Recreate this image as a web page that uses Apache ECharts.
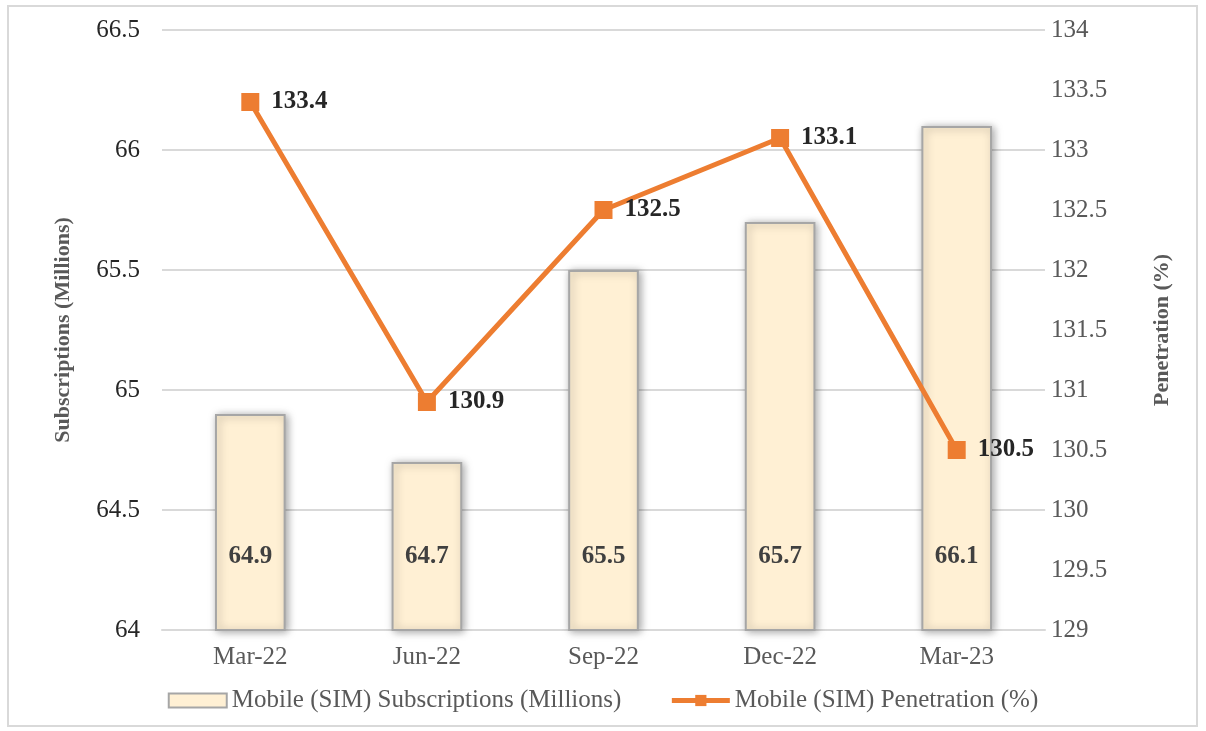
<!DOCTYPE html>
<html><head><meta charset="utf-8">
<script src="https://cdn.jsdelivr.net/npm/echarts@6/dist/echarts.min.js"></script>
<style>html,body{margin:0;padding:0;background:#fff}#c{width:1206px;height:731px}
#frame{position:absolute;left:7px;top:5px;width:1191px;height:722px;border:2px solid #d9d9d9;box-sizing:border-box;pointer-events:none}</style>
</head><body><div id="c"></div><div id="frame"></div>
<script>
const categories = ['Mar-22','Jun-22','Sep-22','Dec-22','Mar-23'];
const subscriptions = [64.9, 64.7, 65.5, 65.7, 66.1];
const penetration = [133.4, 130.9, 132.5, 133.1, 130.5];
const font = 'Liberation Serif';
const fs = 25;
const chart = echarts.init(document.getElementById('c'));
chart.setOption({
  animation:false,
  textStyle:{fontFamily:font},
  grid:{left:162,right:161,top:30,bottom:101},
  legend:{
    bottom:13, left:'center', itemGap:48,
    textStyle:{fontFamily:font,fontSize:fs,color:'#595959'},
    data:[
      {name:'Mobile (SIM) Subscriptions (Millions)', icon:'rect', itemStyle:{color:'#FFF0D4',borderColor:'#A6A6A6',borderWidth:2}},
      {name:'Mobile (SIM) Penetration (%)', lineStyle:{width:5}}
    ],
    itemWidth:58, itemHeight:14
  },
  xAxis:{type:'category',data:categories,
    axisLine:{lineStyle:{color:'#d9d9d9',width:2}},axisTick:{show:false},
    axisLabel:{fontFamily:font,fontSize:fs,color:'#595959',margin:15}},
  yAxis:[
    {type:'value',min:64,max:66.5,interval:0.5,
     name:'Subscriptions (Millions)',nameLocation:'middle',nameGap:88,
     nameTextStyle:{fontFamily:font,fontSize:22,fontWeight:'bold',color:'#595959'},
     axisLabel:{fontFamily:font,fontSize:fs,color:'#262626',margin:22},
     splitLine:{lineStyle:{color:'#d9d9d9',width:2}},axisLine:{show:false},axisTick:{show:false}},
    {type:'value',min:129,max:134,interval:0.5,
     name:'Penetration (%)',nameLocation:'middle',nameGap:106,nameRotate:90,
     nameTextStyle:{fontFamily:font,fontSize:22,fontWeight:'bold',color:'#595959'},
     axisLabel:{fontFamily:font,fontSize:fs,color:'#595959',margin:6,formatter:v=>String(v)},
     splitLine:{show:false},axisLine:{show:false},axisTick:{show:false}}
  ],
  series:[
    {name:'Mobile (SIM) Subscriptions (Millions)',type:'bar',data:subscriptions,barWidth:'40%',
     itemStyle:{color:'#FFF0D4',borderColor:'#A6A6A6',borderWidth:2,shadowBlur:8,shadowColor:'rgba(0,0,0,0.35)',shadowOffsetX:2,shadowOffsetY:1},
     label:{show:true,position:'insideBottom',distance:62,fontFamily:font,fontSize:fs,fontWeight:'bold',color:'#404040'}},
    {name:'Mobile (SIM) Penetration (%)',type:'line',yAxisIndex:1,data:penetration,
     symbol:'rect',symbolSize:18,
     lineStyle:{color:'#ED7D31',width:5},itemStyle:{color:'#ED7D31'},
     label:{show:true,position:'right',distance:12,fontFamily:font,fontSize:fs,fontWeight:'bold',color:'#262626',formatter:p=>p.value.toFixed(1)}}
  ]
});
</script></body></html>
